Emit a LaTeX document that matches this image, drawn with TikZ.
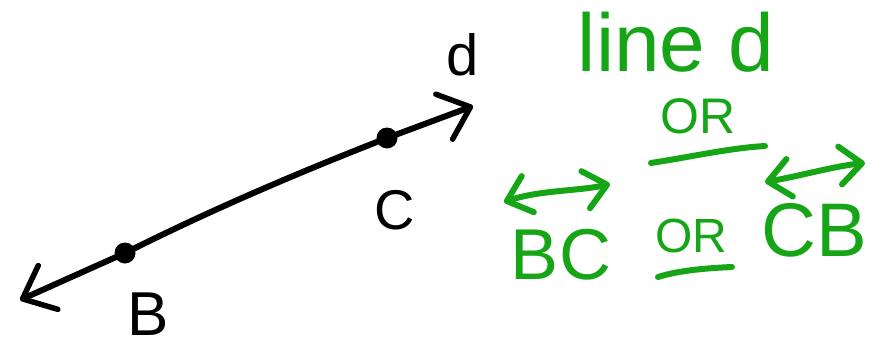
\documentclass[tikz,border=0pt]{standalone}
\usepackage{fontspec}
\setmainfont{Liberation Sans}
\usetikzlibrary{arrows.meta}
\definecolor{pen}{RGB}{22,165,22}
\tikzset{
  blk/.style={line width=6pt, line cap=round, line join=round, black},
  grn/.style={line width=6pt, line cap=round, line join=round, pen},
  bigtip/.tip={Straight Barb[length=28pt,width=48pt,line width=5.5pt,round]},
  smalltip/.tip={Straight Barb[length=22pt,width=38pt,line width=6pt,round]},
  dotnode/.style={circle, fill=black, inner sep=0pt, minimum size=21pt},
  lab/.style={inner sep=0pt, text=black},
  glab/.style={inner sep=0pt, text=pen}
}
\begin{document}
\begin{tikzpicture}[x=1pt,y=-1pt]
\useasboundingbox (0,0) rectangle (888,348);
% black line through B and C
\coordinate (endL) at (20,300);
\coordinate (endR) at (473,106);
\node[dotnode] (B) at (125,253) {};
\node[dotnode] (C) at (387,138) {};
\draw[blk, bigtip-bigtip] (endL) -- (B.center) .. controls (215,208) and (300,172) .. (C.center) -- (endR);
\node[lab, font=\fontsize{62}{62}\selectfont] (Blab) at (148,314) {B};
\node[lab, font=\fontsize{56}{56}\selectfont] (Clab) at (395,210) {C};
\node[lab, font=\fontsize{58}{58}\selectfont] (dlab) at (463,55) {d};
% green notes
\node[glab, font=\fontsize{82}{82}\selectfont] (lined) at (676,42) {line d};
\node[glab, font=\fontsize{50}{50}\selectfont] (or1) at (698,116) {OR};
\coordinate (u1a) at (651,163);
\coordinate (u1b) at (765,146);
\draw[grn] (u1a) .. controls (690,157) and (730,148) .. (u1b);
\coordinate (bcL) at (504,202);
\coordinate (bcR) at (610,184);
\draw[grn, smalltip-smalltip] (bcL) .. controls (540,190) and (580,191) .. (bcR);
\node[glab, font=\fontsize{72}{72}\selectfont] (BC) at (561,255) {BC};
\node[glab, font=\fontsize{48}{48}\selectfont] (or2) at (691,236) {OR};
\coordinate (u2a) at (658,277);
\coordinate (u2b) at (732,267);
\draw[grn] (u2a) .. controls (680,270) and (710,268) .. (u2b);
\coordinate (cbL) at (765,182);
\coordinate (cbR) at (865,163);
\draw[grn, smalltip-smalltip] (cbL) .. controls (800,176) and (835,166) .. (cbR);
\node[glab, font=\fontsize{76}{76}\selectfont] (CB) at (814,230) {CB};
\end{tikzpicture}
\end{document}
